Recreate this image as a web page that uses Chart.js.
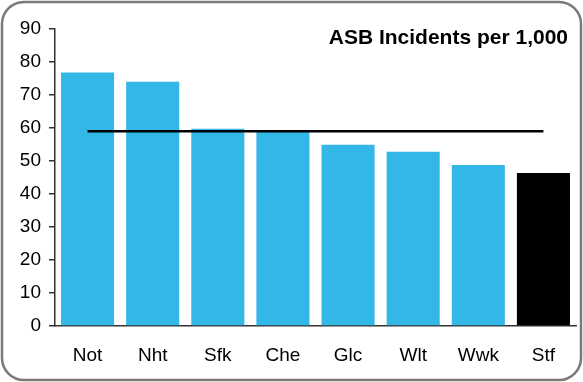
<!DOCTYPE html>
<html lang="en">
<head>
    <meta charset="UTF-8">
    <title>ASB Incidents per 1,000</title>
    <style>
        html, body { margin: 0; padding: 0; background: #fff; }
        #wrap { width: 583px; height: 382px; }
    </style>
</head>
<body>
    <div id="wrap">
        <canvas id="asbChart" width="583" height="382"></canvas>
    </div>
    <script src="https://cdn.jsdelivr.net/npm/chart.js"></script>
    <script>
        // dados
        const areas = ['Not', 'Nht', 'Sfk', 'Che', 'Glc', 'Wlt', 'Wwk', 'Stf'];
        const incidents = [76.8, 74.0, 59.8, 59.1, 54.9, 52.8, 48.8, 46.4];
        const average = [59, 59, 59, 59, 59, 59, 59, 59];
        const yTicks = [0, 10, 20, 30, 40, 50, 60, 70, 80, 90];
        const chartTitle = 'ASB Incidents per 1,000';

        const blue = '#33b7e7';
        const barColors = areas.map(a => a === 'Stf' ? '#000000' : blue);

        // moldura arredondada + título dentro da área do gráfico
        const framePlugin = {
            id: 'frame',
            afterDraw(chart) {
                const ctx = chart.ctx;
                ctx.save();
                ctx.strokeStyle = '#7a7a7a';
                ctx.lineWidth = 2.5;
                ctx.beginPath();
                ctx.roundRect(2, 2, 579, 378, 22);
                ctx.stroke();

                ctx.fillStyle = '#000';
                ctx.font = 'bold 21px "Liberation Sans", Arial, sans-serif';
                ctx.textAlign = 'right';
                ctx.textBaseline = 'alphabetic';
                ctx.fillText(chartTitle, 568, 44);
                ctx.restore();
            }
        };

        const fontFamily = '"Liberation Sans", Arial, sans-serif';

        new Chart(document.getElementById('asbChart'), {
            data: {
                labels: areas,
                datasets: [
                    {
                        type: 'line',
                        data: average,
                        borderColor: '#000',
                        borderWidth: 2.5,
                        pointRadius: 0,
                        order: 0
                    },
                    {
                        type: 'bar',
                        data: incidents,
                        backgroundColor: barColors,
                        categoryPercentage: 1,
                        barPercentage: 0.815,
                        order: 1
                    }
                ]
            },
            options: {
                responsive: false,
                animation: false,
                layout: { padding: { top: 29, right: 7, left: 0, bottom: 0 } },
                plugins: {
                    legend: { display: false },
                    tooltip: { enabled: false },
                    title: { display: false }
                },
                scales: {
                    x: {
                        grid: { display: false },
                        border: { color: '#333', width: 1.5 },
                        ticks: { color: '#000', font: { family: fontFamily, size: 19 }, padding: 10 },
                        afterFit(scale) { scale.height = 56; }
                    },
                    y: {
                        min: 0,
                        max: 90,
                        afterBuildTicks(scale) { scale.ticks = yTicks.map(v => ({ value: v })); },
                        grid: { drawOnChartArea: false, tickLength: 6, color: '#333', lineWidth: 1.5 },
                        border: { color: '#333', width: 1.5 },
                        ticks: { color: '#000', font: { family: fontFamily, size: 19 }, padding: 8 },
                        afterFit(scale) { scale.width = 55; }
                    }
                }
            },
            plugins: [framePlugin]
        });
    </script>
</body>
</html>
